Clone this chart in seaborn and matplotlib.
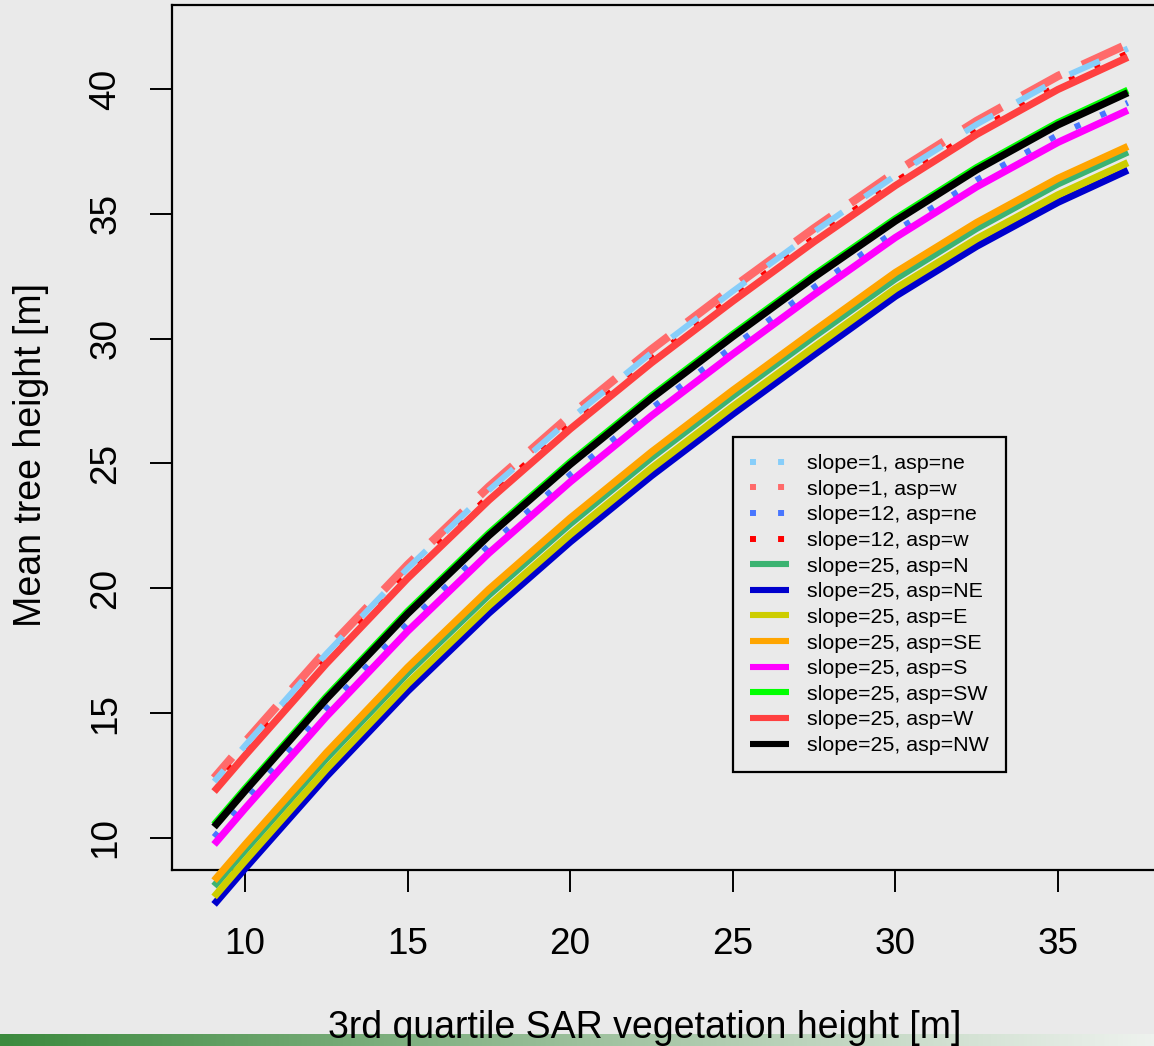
import numpy as np
import pandas as pd
import matplotlib
matplotlib.use("Agg")
import matplotlib.pyplot as plt
import seaborn as sns
from matplotlib.lines import Line2D
from matplotlib.colors import LinearSegmentedColormap

sns.set_style("white")
plt.rcParams['font.family'] = ['Liberation Sans', 'DejaVu Sans']
plt.rcParams['text.color'] = 'black'
plt.rcParams['axes.labelcolor'] = 'black'

# ---------------- data ----------------
sar_height = [9.05, 10, 12.5, 15, 17.5, 20, 22.5, 25, 27.5, 30, 32.5, 35, 37.15]

s1_ne  = [12.26, 13.70, 17.38, 20.80, 23.93, 26.78, 29.43, 31.90, 34.28, 36.53, 38.58, 40.38, 41.62]
s1_w   = [12.40, 13.84, 17.52, 20.94, 24.07, 26.92, 29.57, 32.04, 34.42, 36.67, 38.72, 40.52, 41.80]
s12_ne = [10.04, 11.48, 15.16, 18.58, 21.71, 24.56, 27.21, 29.68, 32.06, 34.31, 36.36, 38.16, 39.45]
s12_w  = [12.02, 13.46, 17.14, 20.56, 23.69, 26.54, 29.19, 31.66, 34.04, 36.29, 38.34, 40.14, 41.43]
s25_N  = [8.07, 9.51, 13.19, 16.61, 19.74, 22.59, 25.24, 27.71, 30.09, 32.40, 34.42, 36.20, 37.48]
s25_NE = [7.34, 8.78, 12.46, 15.88, 19.01, 21.86, 24.51, 26.98, 29.36, 31.70, 33.70, 35.46, 36.75]
s25_E  = [7.64, 9.08, 12.76, 16.18, 19.31, 22.16, 24.81, 27.28, 29.66, 32.00, 34.00, 35.76, 37.05]
s25_SE = [8.29, 9.73, 13.41, 16.83, 19.96, 22.81, 25.46, 27.93, 30.31, 32.65, 34.65, 36.42, 37.70]
s25_S  = [9.74, 11.18, 14.86, 18.28, 21.41, 24.26, 26.91, 29.38, 31.76, 34.05, 36.08, 37.86, 39.15]
s25_SW = [10.53, 11.97, 15.65, 19.07, 22.20, 25.05, 27.70, 30.17, 32.55, 34.80, 36.85, 38.65, 39.95]
s25_W  = [11.86, 13.30, 16.98, 20.40, 23.53, 26.38, 29.03, 31.50, 33.88, 36.13, 38.18, 39.98, 41.27]
s25_NW = [10.44, 11.88, 15.56, 18.98, 22.11, 24.96, 27.61, 30.08, 32.46, 34.71, 36.76, 38.56, 39.85]

labels = ["slope=1, asp=ne", "slope=1, asp=w", "slope=12, asp=ne", "slope=12, asp=w",
          "slope=25, asp=N", "slope=25, asp=NE", "slope=25, asp=E", "slope=25, asp=SE",
          "slope=25, asp=S", "slope=25, asp=SW", "slope=25, asp=W", "slope=25, asp=NW"]
series = [s1_ne, s1_w, s12_ne, s12_w, s25_N, s25_NE, s25_E, s25_SE, s25_S, s25_SW, s25_W, s25_NW]
colors = ["#87CEFA", "#FF6A6A", "#4876FF", "#FF0000", "#3CB371", "#0000CD",
          "#CDCD00", "#FFA500", "#FF00FF", "#00FF00", "#FF4040", "#000000"]

x_ticks = [10, 15, 20, 25, 30, 35]
y_ticks = [10, 15, 20, 25, 30, 35, 40]

# ---------------- styles ----------------
bg = "#EAEAEA"
W, H = 1154, 1046
line_styles = [
    dict(lw=4.3, linestyle=(3, (5.5, 4.5)), z=2.85),  # slope=1 ne dashed
    dict(lw=6.0, linestyle=(2, (5.3, 2.8)), z=2.5),   # slope=1 w dashed
    dict(lw=4.3, linestyle=(0, (1.0, 3.7)), z=2.7),   # slope=12 ne dotted
    dict(lw=4.3, linestyle=(1, (1.0, 3.7)), z=2.7),   # slope=12 w dotted
] + [dict(lw=5.2, linestyle="-", z=2.8)] * 8

fig = plt.figure(figsize=(W / 100, H / 100), dpi=100, facecolor=bg)

# bottom gradient strip
gax = fig.add_axes([0, 0, 1, 12 / H], zorder=0)
cmap = LinearSegmentedColormap.from_list("g", ["#3C8A3E", "#9CC09C", "#EEF2EE"])
gax.imshow(np.linspace(0, 1, 512)[None, :], aspect="auto", cmap=cmap, extent=[0, 1, 0, 1])
gax.set_axis_off()

left_px, right_px, top_px, bot_px = 172, 1175, 5, 870
ax = fig.add_axes([left_px / W, (H - bot_px) / H, (right_px - left_px) / W, (bot_px - top_px) / H], zorder=1)
ax.set_facecolor(bg)

for i, (vals, lab, col, st) in enumerate(zip(series, labels, colors, line_styles)):
    df = pd.DataFrame({"x": sar_height, "y": vals})
    sns.lineplot(data=df, x="x", y="y", ax=ax, color=col, lw=st["lw"],
                 linestyle=st["linestyle"], clip_on=False, sort=False,
                 estimator=None, legend=False, solid_capstyle="butt",
                 zorder=st["z"] + i * 0.001)

ax.set_xlim(7.755, 38.6)
ax.set_ylim(8.718, 43.364)
ax.set_xticks(x_ticks)
ax.set_yticks(y_ticks)
ax.set_xticklabels([str(v) for v in x_ticks])
ax.set_yticklabels([str(v) for v in y_ticks], rotation=90, va="center")

for sp in ax.spines.values():
    sp.set_visible(True)
    sp.set_color("black")
    sp.set_linewidth(1.6)

ax.tick_params(axis="both", which="both", direction="out", length=16, width=1.4,
               color="black", labelsize=26.6, labelcolor="black")
ax.tick_params(axis="x", pad=25, bottom=True, top=False)
ax.tick_params(axis="y", pad=19, left=True, right=False)

ax.set_xlabel("3rd quartile SAR vegetation height [m]", fontsize=27, va="center", color="black")
ax.xaxis.set_label_coords((645 - left_px) / (right_px - left_px), (bot_px - 1028) / (bot_px - top_px))
ax.set_ylabel("Mean tree height [m]", fontsize=27, va="center", color="black")
ax.yaxis.set_label_coords((31 - left_px) / (right_px - left_px), (bot_px - 455) / (bot_px - top_px))

# legend
handles = []
for i, (lab, col) in enumerate(zip(labels, colors)):
    if i < 4:
        h = Line2D([], [], color=col, lw=4.3, linestyle=(0, (1.0, 3.7)))
    else:
        h = Line2D([], [], color=col, lw=4.4, solid_capstyle="butt")
    handles.append(h)

leg = ax.legend(handles=handles, labels=labels, loc="upper left",
                bbox_to_anchor=(733 / W, 1 - 437 / H), bbox_transform=fig.transFigure,
                fontsize=15.4, frameon=True, fancybox=False, framealpha=1,
                facecolor=bg, edgecolor="black", borderaxespad=0, borderpad=0.8,
                handlelength=1.8, handletextpad=0.85, labelspacing=0.31)
leg.get_frame().set_linewidth(1.6)
for t in leg.get_texts():
    t.set_color("black")

fig.savefig("out.png", dpi=100, facecolor=bg)
